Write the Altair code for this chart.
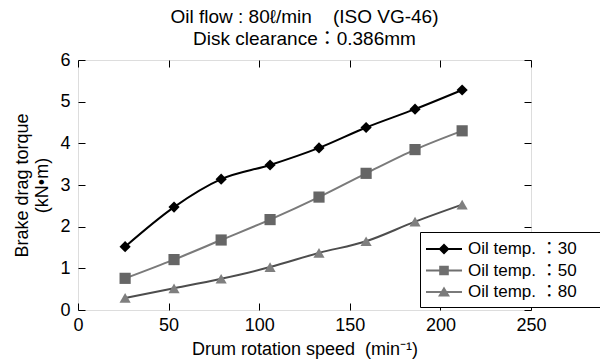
import altair as alt
import pandas as pd

# ---- data ----
speed = [26, 53, 79, 106, 133, 159, 186, 212]
torque_30 = [1.52, 2.47, 3.14, 3.48, 3.89, 4.38, 4.82, 5.28]
torque_50 = [0.76, 1.21, 1.68, 2.17, 2.71, 3.28, 3.85, 4.30]
torque_80 = [0.29, 0.52, 0.75, 1.03, 1.37, 1.65, 2.12, 2.53]
series_names = ["Oil temp. ：30", "Oil temp. ：50", "Oil temp. ：80"]
x_ticks = [0, 50, 100, 150, 200, 250]
y_ticks = [0, 1, 2, 3, 4, 5, 6]

rows = []
for name, vals in zip(series_names, [torque_30, torque_50, torque_80]):
    for s, t in zip(speed, vals):
        rows.append({"speed": s, "torque": t, "series": name})
df = pd.DataFrame(rows)

FONT = "Liberation Sans"
FONT_CJK = "Liberation Sans, Noto Sans CJK JP"
NB = "\u00a0"
line_colors = ["#000000", "#7a7a7a", "#4d4d4d"]
marker_colors = ["#000000", "#666666", "#7f7f7f"]
marker_shapes = ["diamond", "square", "triangle-up"]
# legend symbols: a short line with the marker on it (unit coordinates)
legend_paths = [
    "M-1.8,-0.09H1.8V0.09H-1.8Z M0,-0.55L0.55,0L0,0.55L-0.55,0Z",
    "M-1.8,-0.09H1.8V0.09H-1.8Z M-0.48,-0.48H0.48V0.48H-0.48Z",
    "M-1.8,-0.09H1.8V0.09H-1.8Z M0,-0.55L0.6,0.45H-0.6Z",
]
legend_colors = ["#000000", "#6f6f6f", "#7a7a7a"]

xscale = alt.Scale(domain=[0, 250], nice=False, zero=False)
yscale = alt.Scale(domain=[0, 6], nice=False)

common_axis = dict(
    grid=False, domain=False, ticks=True, tickSize=7, offset=-7,
    tickColor="black", tickWidth=1, labelFlush=False,
    labelFont=FONT, labelFontSize=18, labelColor="black",
    titleFont=FONT, titleFontSize=18, titleFontWeight="normal", titleColor="black",
)

x_bottom = alt.Axis(orient="bottom", values=x_ticks, labelPadding=6,
                    title="Drum rotation speed" + NB + NB + "(min⁻¹)", titlePadding=6, **common_axis)
y_left = alt.Axis(orient="left", values=y_ticks, labelPadding=8,
                  title=["Brake drag torque", "(kN•m)"], titlePadding=8,
                  titleLineHeight=20, **common_axis)
x_top = alt.Axis(orient="top", values=x_ticks, labels=False, title=None, **common_axis)
y_right = alt.Axis(orient="right", values=y_ticks, labels=False, title=None, **common_axis)

base = alt.Chart(df)

lines = base.mark_line(strokeWidth=2, interpolate="monotone").encode(
    x=alt.X("speed:Q", scale=xscale, axis=x_bottom),
    y=alt.Y("torque:Q", scale=yscale, axis=y_left),
    color=alt.Color("series:N", scale=alt.Scale(domain=series_names, range=line_colors), legend=None),
    detail="series:N",
)

points = base.mark_point(filled=True, opacity=1, size=125, strokeWidth=0).encode(
    x=alt.X("speed:Q", scale=xscale, axis=x_top),
    y=alt.Y("torque:Q", scale=yscale, axis=y_right),
    color=alt.Color("series:N", scale=alt.Scale(domain=series_names, range=marker_colors), legend=None),
    shape=alt.Shape("series:N", scale=alt.Scale(domain=series_names, range=marker_shapes), legend=None),
)

label_expr = "datum.label + '" + NB * 12 + "\u200b'"


def make_legend():
    return alt.Legend(
        title=None, orient="none", legendX=342, legendY=172,
        direction="vertical", strokeColor="black", fillColor="white",
        padding=7, symbolSize=400, symbolOffset=7, labelOffset=14,
        rowPadding=3.5, labelFont=FONT_CJK, labelFontSize=17, labelColor="black",
        symbolStrokeWidth=0, labelLimit=400, labelExpr=label_expr)


legend_layer = base.transform_filter("datum.speed < 0").mark_point(
    filled=True, opacity=1, size=400, strokeWidth=0
).encode(
    x=alt.X("speed:Q", scale=xscale, axis=None),
    y=alt.Y("torque:Q", scale=yscale, axis=None),
    color=alt.Color("series:N", scale=alt.Scale(domain=series_names, range=legend_colors),
                    legend=make_legend()),
    shape=alt.Shape("series:N", scale=alt.Scale(domain=series_names, range=legend_paths),
                    legend=make_legend()),
)

chart = alt.layer(lines, points, legend_layer).resolve_scale(
    color="independent", shape="independent"
).resolve_axis(
    x="independent", y="independent"
).properties(
    width=453, height=250,
    title=alt.TitleParams(
        ["Oil flow : 80ℓ/min" + NB * 4 + "(ISO VG-46)", "Disk clearance：0.386mm"],
        font=FONT_CJK, fontSize=19, fontWeight="normal", color="black",
        anchor="middle", offset=2, lineHeight=22,
    ),
    autosize=alt.AutoSizeParams(type="none"),
    padding={"left": 78, "top": 60, "right": 69, "bottom": 49},
).configure_view(
    stroke="black", strokeWidth=1
).configure(background="white")

chart.save("out.html", embed_options={"renderer": "svg", "actions": False})
